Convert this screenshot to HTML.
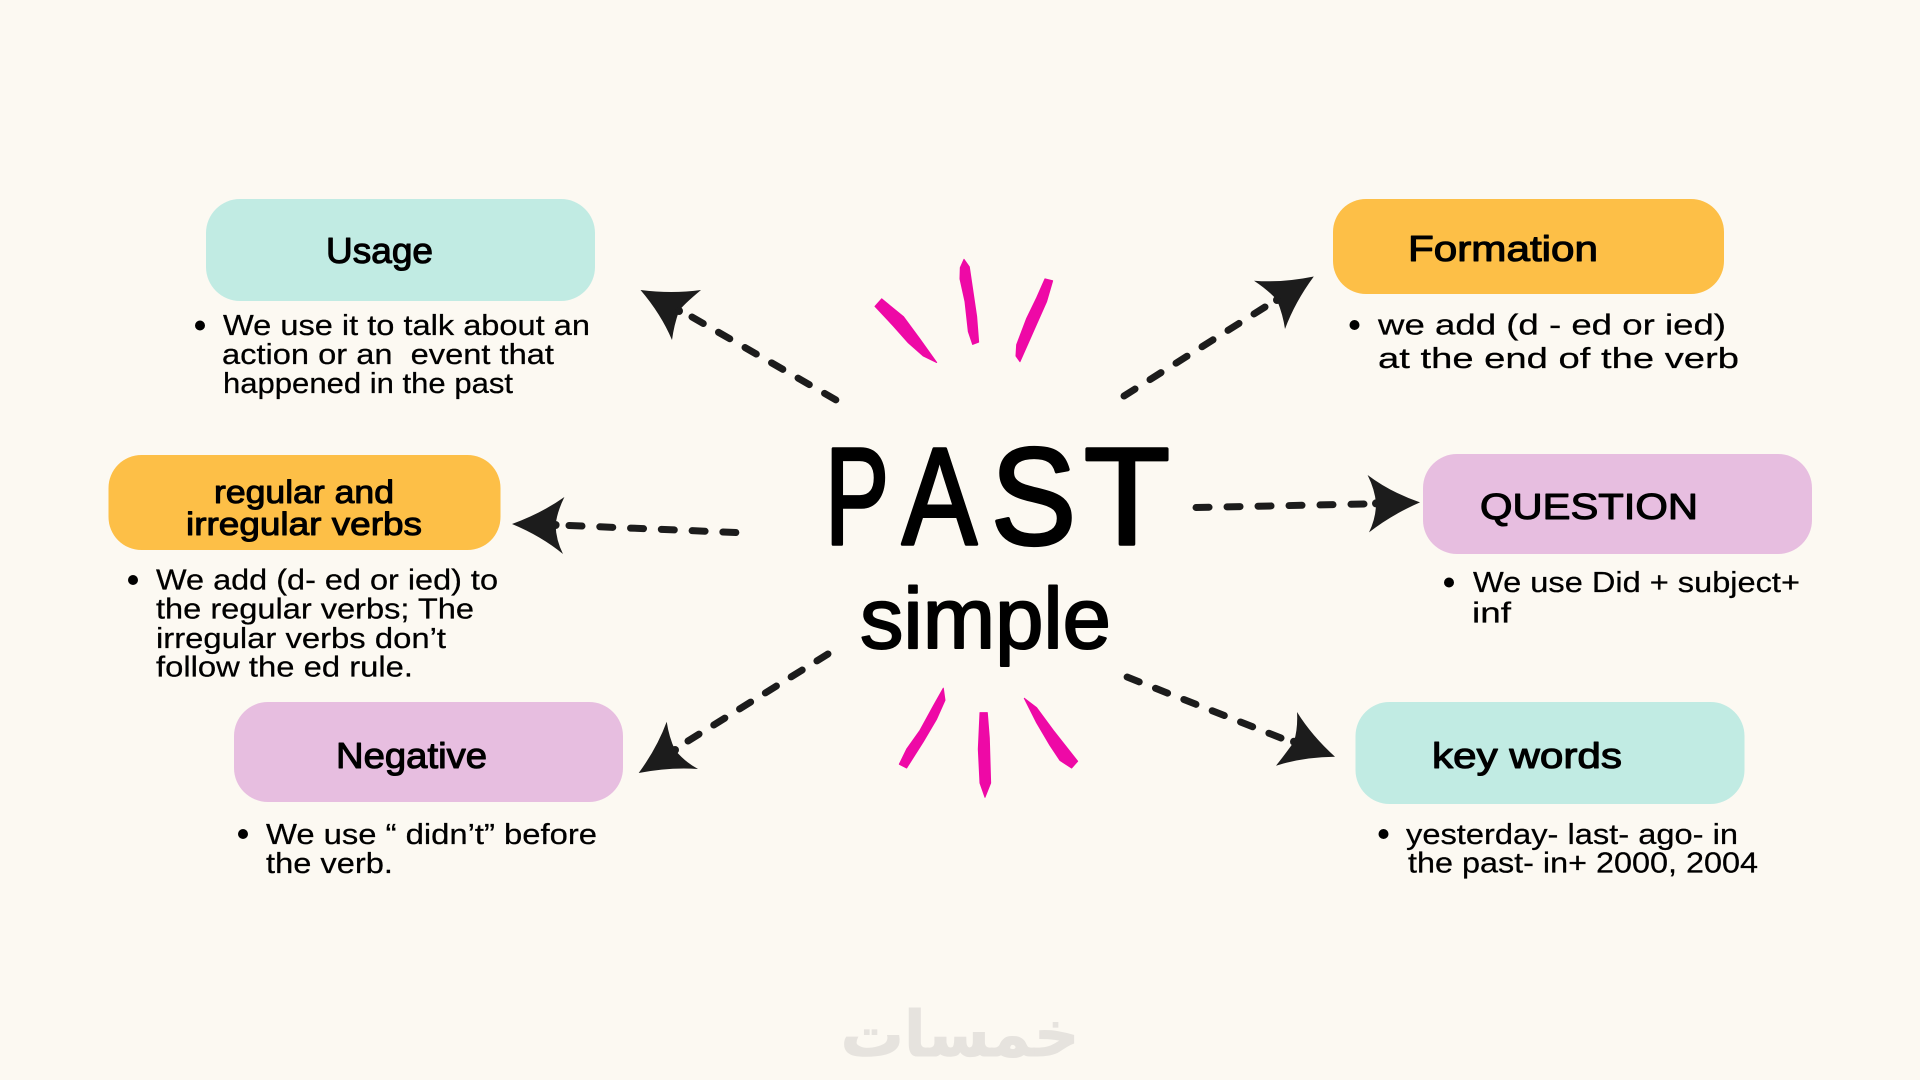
<!DOCTYPE html>
<html lang="en"><head><meta charset="utf-8"><title>Past Simple</title>
<style>
html,body{margin:0;padding:0;background:#fcf9f2;width:1920px;height:1080px;overflow:hidden}
svg{display:block}
text{font-family:"Liberation Sans","DejaVu Sans",sans-serif;fill:#000}
.b{font-size:28.5px;stroke:#000;stroke-width:.25px}
.t{font-size:36px;stroke:#000;stroke-width:1.1px;stroke-linejoin:round}
.t2{font-size:32px;stroke:#000;stroke-width:1px;stroke-linejoin:round}
.d{fill:none;stroke:#1c1c1c;stroke-width:7px;stroke-linecap:round}
.h{fill:#1c1c1c}
</style></head><body>
<svg xmlns="http://www.w3.org/2000/svg" width="1920" height="1080" viewBox="0 0 1920 1080">
<rect width="1920" height="1080" fill="#fcf9f2"/>

<!-- boxes -->
<rect x="206" y="199" width="389" height="102" rx="34" fill="#c1ebe3"/>
<rect x="108.500" y="455" width="392" height="95" rx="33" fill="#fdbf47"/>
<rect x="234" y="702" width="389" height="100" rx="34" fill="#e7bee0"/>
<rect x="1333" y="199" width="391" height="95" rx="33" fill="#fdbf47"/>
<rect x="1423" y="454" width="389" height="100" rx="34" fill="#e7bee0"/>
<rect x="1355.500" y="702" width="389" height="102" rx="34" fill="#c1ebe3"/>

<!-- titles -->
<text class="t" x="326" y="263" textLength="107" lengthAdjust="spacingAndGlyphs">Usage</text>
<text class="t2" x="214" y="503" textLength="180" lengthAdjust="spacingAndGlyphs">regular and</text>
<text class="t2" x="186" y="535" textLength="236" lengthAdjust="spacingAndGlyphs">irregular verbs</text>
<text class="t" x="336" y="768" textLength="151" lengthAdjust="spacingAndGlyphs">Negative</text>
<text class="t" x="1408" y="261" textLength="190" lengthAdjust="spacingAndGlyphs">Formation</text>
<text class="t" x="1480" y="519" textLength="218" lengthAdjust="spacingAndGlyphs">QUESTION</text>
<text class="t" x="1432" y="768" textLength="190" lengthAdjust="spacingAndGlyphs">key words</text>

<!-- bullets -->
<g fill="#000">
<circle cx="200" cy="325.500" r="5"/>
<circle cx="133" cy="580" r="5"/>
<circle cx="243" cy="834" r="5"/>
<circle cx="1354.500" cy="325" r="5"/>
<circle cx="1449" cy="582.500" r="5"/>
<circle cx="1383.500" cy="834" r="5"/>
</g>

<!-- body text -->
<text class="b" x="223" y="335" textLength="367" lengthAdjust="spacingAndGlyphs">We use it to talk about an</text>
<text class="b" x="222" y="364" textLength="332" lengthAdjust="spacingAndGlyphs">action or an &#160;event that</text>
<text class="b" x="223" y="393" textLength="290" lengthAdjust="spacingAndGlyphs">happened in the past</text>

<text class="b" x="156" y="589.500" textLength="342" lengthAdjust="spacingAndGlyphs">We add (d- ed or ied) to</text>
<text class="b" x="156" y="618.500" textLength="318" lengthAdjust="spacingAndGlyphs">the regular verbs; The</text>
<text class="b" x="156" y="648" textLength="290" lengthAdjust="spacingAndGlyphs">irregular verbs don’t</text>
<text class="b" x="156" y="676.500" textLength="257" lengthAdjust="spacingAndGlyphs">follow the ed rule.</text>

<text class="b" x="266" y="844" textLength="331" lengthAdjust="spacingAndGlyphs">We use “ didn’t” before</text>
<text class="b" x="266" y="873" textLength="127" lengthAdjust="spacingAndGlyphs">the verb.</text>

<text class="b" x="1378" y="334.500" textLength="348" lengthAdjust="spacingAndGlyphs">we add (d - ed or ied)</text>
<text class="b" x="1378" y="368" textLength="361" lengthAdjust="spacingAndGlyphs">at the end of the verb</text>

<text class="b" x="1473" y="592" textLength="327" lengthAdjust="spacingAndGlyphs">We use Did + subject+</text>
<text class="b" x="1472" y="622.500" textLength="39" lengthAdjust="spacingAndGlyphs">inf</text>

<text class="b" x="1406" y="844" textLength="332" lengthAdjust="spacingAndGlyphs">yesterday- last- ago- in</text>
<text class="b" x="1408" y="872.500" textLength="350" lengthAdjust="spacingAndGlyphs">the past- in+ 2000, 2004</text>

<!-- centre title -->
<text y="544" style="font-size:138px;stroke:#000;stroke-width:3.500px;stroke-linejoin:round"><tspan x="825" textLength="64" lengthAdjust="spacingAndGlyphs">P</tspan><tspan x="902" textLength="75" lengthAdjust="spacingAndGlyphs">A</tspan><tspan x="991" textLength="85" lengthAdjust="spacingAndGlyphs">S</tspan><tspan x="1084" textLength="86" lengthAdjust="spacingAndGlyphs">T</tspan></text>
<text x="860" y="648" textLength="251" lengthAdjust="spacingAndGlyphs" style="font-size:86px;stroke:#000;stroke-width:2px;stroke-linejoin:round">simple</text>

<!-- pink bursts -->
<g transform="translate(780 230) scale(.3333 .3762)" fill="#ee09a6" stroke="#ee09a6" stroke-width="3" stroke-linejoin="round">
<polygon points="285,203 305,183 335,205 370,230 420,290 470,352 430,335 385,300 340,255"/>
<polygon points="541,100 552,78 568,98 580,170 590,230 596,298 578,304 565,270 555,190 540,130"/>
<polygon points="795,130 818,135 800,190 770,250 745,300 720,350 708,335 710,305 740,235 770,180"/>
<polygon points="490,1218 495,1250 470,1300 430,1360 380,1430 358,1420 380,1380 420,1330 460,1265"/>
<polygon points="600,1283 622,1283 628,1350 632,1470 615,1508 600,1470 595,1380"/>
<polygon points="733,1245 770,1270 820,1330 893,1412 875,1430 840,1410 810,1370 770,1310"/>
</g>

<!-- connectors: six dashes each, fitted so both ends land on a dash -->
<path class="d" stroke-dasharray="13 17.600" d="M692 317L836 400"/>
<path class="d" stroke-dasharray="13 17.800" d="M569 525.500L736 532.500"/>
<path class="d" stroke-dasharray="13 17.740" d="M1265 307L1124 396"/>
<path class="d" stroke-dasharray="13 18" d="M1364 504L1196 507.500"/>
<path class="d" stroke-dasharray="13 17.500" d="M1281 738L1127 677"/>
<path class="d" stroke-dasharray="13 17.360" d="M688 741L828 654"/>

<!-- arrowheads -->
<path class="h" d="M640.500 290Q672 294 701 290Q683 305 679 311Q674 325 672 340Q661 314 640.500 290Z"/>
<path class="h" d="M512 524Q542 513 564.400 497Q557 512 555.600 525Q556 540 563 554Q541 536 512 524Z"/>
<path class="h" d="M1313.800 276.500Q1282 283 1254 280.700Q1268 290 1277 300Q1283 315 1285 329Q1295 302 1313.800 276.500Z"/>
<path class="h" d="M1420 502.400Q1390 492 1367.600 475Q1375 490 1376 503.400Q1376 518 1369 532.400Q1391 515 1420 502.400Z"/>
<path class="h" d="M1335 756.700Q1312 736 1297 712Q1298 728 1294 741.700Q1286 753 1276 765.700Q1303 757 1335 756.700Z"/>
<path class="h" d="M638.700 773Q657 748 666.700 721.700Q669 737 675 750Q685 762 698 769Q670 767 638.700 773Z"/>
<g class="h"><circle cx="679" cy="311" r="4"/><circle cx="555.600" cy="525" r="4"/><circle cx="1277" cy="300" r="4"/><circle cx="1376" cy="503.400" r="4"/><circle cx="1294" cy="741.700" r="4"/><circle cx="675" cy="750" r="4"/></g>

<!-- watermark -->
<text x="960" y="1056" text-anchor="middle" direction="rtl" style="font-family:'DejaVu Sans',sans-serif;font-weight:bold;font-size:63px;fill:#e6e3de;stroke:#e6e3de;stroke-width:1px">خمسات</text>
</svg>
</body></html>
